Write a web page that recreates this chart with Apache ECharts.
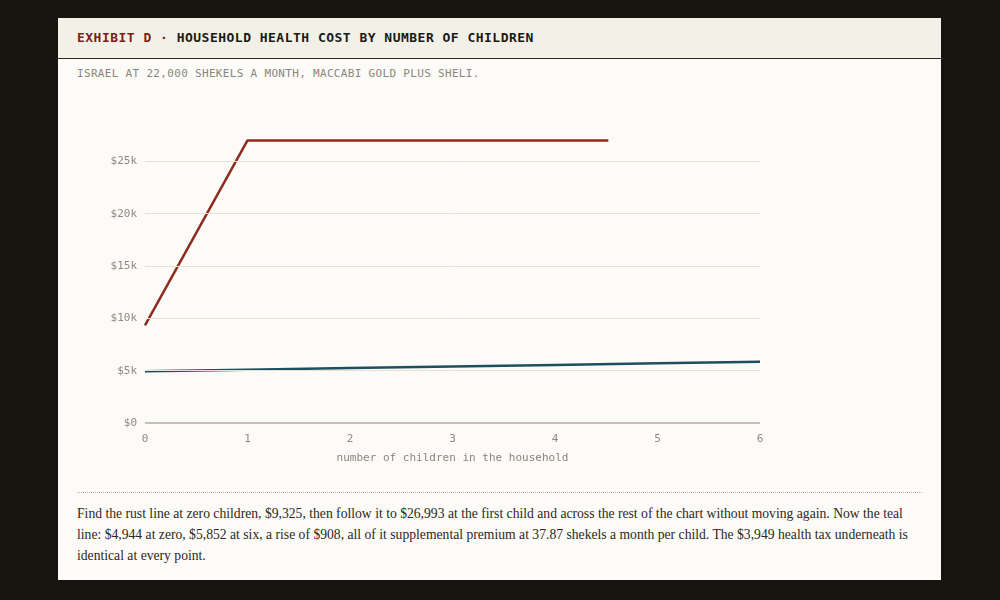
<!DOCTYPE html>
<html><head><meta charset="utf-8">
<script src="https://cdn.jsdelivr.net/npm/echarts@6/dist/echarts.min.js"></script>
<style>
html,body{margin:0;padding:0;background:#16140f;width:1000px;height:600px;overflow:hidden;}
#card{position:absolute;left:58px;top:18px;width:883px;height:562px;background:#fcfbf7;}
#head{position:absolute;left:0;top:0;width:883px;height:41px;background:#f3f1e7;border-bottom:1.5px solid #2a2620;box-sizing:border-box;}
#title{position:absolute;left:19px;top:12px;font-family:"DejaVu Sans Mono",monospace;font-weight:bold;font-size:13px;letter-spacing:0.48px;color:#1b1915;white-space:nowrap;}
#title .ex{color:#7d1e14;}
#sub{position:absolute;left:19px;top:49px;font-family:"DejaVu Sans Mono",monospace;font-size:11px;letter-spacing:0.32px;color:#8a857b;white-space:nowrap;}
#sep{position:absolute;left:19px;top:474px;width:845px;border-top:1px dotted #b9b4a8;}
#body{position:absolute;left:19px;top:485px;width:838px;font-family:"Liberation Serif",serif;font-size:13.65px;line-height:21px;color:#2b2823;}
#chart{position:absolute;left:0;top:0;width:1000px;height:600px;}
</style></head>
<body>
<div id="card">
  <div id="head"><div id="title"><span class="ex">EXHIBIT D ·</span> HOUSEHOLD HEALTH COST BY NUMBER OF CHILDREN</div></div>
  <div id="sub">ISRAEL AT 22,000 SHEKELS A MONTH, MACCABI GOLD PLUS SHELI.</div>
  <div id="sep"></div>
  <div id="body">Find the rust line at zero children, $9,325, then follow it to $26,993 at the first child and across the rest of the chart without moving again. Now the teal line: $4,944 at zero, $5,852 at six, a rise of $908, all of it supplemental premium at 37.87 shekels a month per child. The $3,949 health tax underneath is identical at every point.</div>
</div>
<div id="chart"></div>
<script>
const rustX = [0, 1, 2, 3, 4, 4.52];
const rustY = [9325, 26993, 26993, 26993, 26993, 26993];
const tealX = [0, 1, 2, 3, 4, 5, 6];
const tealY = [4944, 5095, 5247, 5398, 5549, 5701, 5852];
const gridValues = [5000, 10000, 15000, 20000, 25000];
const xAxisName = 'number of children in the household';

const chart = echarts.init(document.getElementById('chart'));
const mono = '"DejaVu Sans Mono", monospace';
chart.setOption({
  animation: false,
  backgroundColor: 'transparent',
  grid: {left: 145, right: 240, top: 109, bottom: 177, containLabel: false},
  xAxis: {
    type: 'value', min: 0, max: 6, interval: 1,
    name: xAxisName, nameLocation: 'middle', nameGap: 30,
    nameTextStyle: {fontFamily: mono, fontSize: 11, color: '#8a857b'},
    axisLine: {show: false},
    axisTick: {show: false},
    splitLine: {show: false},
    axisLabel: {fontFamily: mono, fontSize: 11, color: '#8f8a80', margin: 11}
  },
  yAxis: {
    type: 'value', min: 0, max: 30000, interval: 5000,
    axisLine: {show: false},
    axisTick: {show: false},
    splitLine: {show: false},
    axisLabel: {fontFamily: mono, fontSize: 11, color: '#8f8a80', margin: 8,
      formatter: v => v >= 30000 ? '' : (v === 0 ? '$0' : '$' + (v / 1000) + 'k')}
  },
  series: [
    {
      type: 'line', data: [[0, 0], [6, 0]], symbol: 'none', silent: true,
      lineStyle: {color: '#c6c0b0', width: 1.8}, z: 1,
      markLine: {
        silent: true, symbol: 'none', label: {show: false},
        lineStyle: {color: '#e6e2d5', width: 1, type: 'solid'},
        data: gridValues.map(v => ({yAxis: v}))
      }
    },
    {
      type: 'line', data: tealX.map((x, i) => [x, tealY[i]]), symbol: 'none',
      lineStyle: {color: '#1d4f5d', width: 2.5}, z: 3
    },
    {
      type: 'line', data: rustX.map((x, i) => [x, rustY[i]]), symbol: 'none',
      lineStyle: {color: '#8e2b1f', width: 2.5}, z: 3
    }
  ]
});
</script>
</body></html>
